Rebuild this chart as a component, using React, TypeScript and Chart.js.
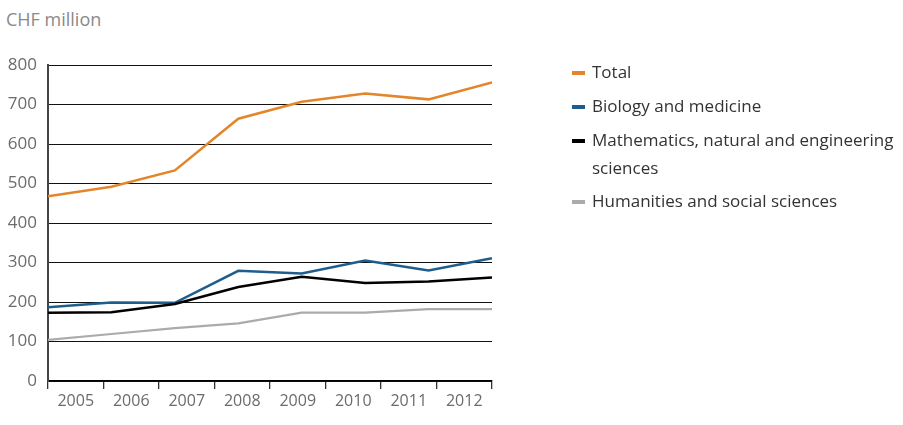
import React, { useEffect, useRef } from "react";
import { Chart, registerables } from "chart.js";

Chart.register(...registerables);

const years = ["2005", "2006", "2007", "2008", "2009", "2010", "2011", "2012"];
const total = [468, 492, 533, 664, 707, 728, 713, 756];
const biology = [187, 199, 198, 279, 272, 305, 280, 311];
const mathematics = [173, 174, 195, 238, 264, 248, 252, 262];
const humanities = [104, 119, 134, 146, 173, 173, 182, 182];
const yTicks = [0, 100, 200, 300, 400, 500, 600, 700, 800];

const seriesNames = [
  "Total",
  "Biology and medicine",
  "Mathematics, natural and engineering sciences",
  "Humanities and social sciences",
];
const seriesColors = ["#E3862A", "#1F5E8C", "#000000", "#ABABAB"];
const seriesValues = [total, biology, mathematics, humanities];

const FONT = "'Open Sans', sans-serif";

export default function App() {
  const ref = useRef<HTMLCanvasElement | null>(null);

  useEffect(() => {
    document.body.style.margin = "0";
    const ctx = ref.current!;
    const chart = new Chart(ctx, {
      type: "line",
      data: {
        labels: years,
        datasets: seriesValues.map((vals, i) => ({
          label: seriesNames[i],
          data: vals.map((v, k) => ({ x: k, y: v })),
          borderColor: seriesColors[i],
          backgroundColor: seriesColors[i],
          borderWidth: i === 3 ? 2.2 : 2.5,
          pointRadius: 0,
          tension: 0,
          xAxisID: "xd",
          order: 3 - i,
        })),
      },
      options: {
        animation: false,
        responsive: false,
        maintainAspectRatio: false,
        layout: { padding: { top: 65, right: 48, left: 0, bottom: 0 } },
        plugins: { legend: { display: false }, tooltip: { enabled: false }, title: { display: false } },
        scales: {
          x: {
            type: "category",
            offset: true,
            grid: { display: true, drawOnChartArea: false, drawTicks: true, tickLength: 8, color: "#333", lineWidth: 1.3, offset: true },
            border: { display: true, color: "#000", width: 1.3 },
            ticks: { color: "#6b6b6b", font: { family: FONT, size: 16 }, padding: 3, maxRotation: 0 },
            afterFit: (s: any) => { s.height = 44; },
          },
          xd: {
            type: "linear",
            min: 0,
            max: 7,
            display: false,
          },
          y: {
            min: 0,
            max: 800,
            afterBuildTicks: (s: any) => { s.ticks = yTicks.map((v) => ({ value: v })); },
            grid: { color: "#111", lineWidth: 1, drawTicks: false },
            border: { display: true, color: "#444", width: 2 },
            ticks: { color: "#6b6b6b", font: { family: FONT, size: 17 }, padding: 11 },
            afterFit: (s: any) => { s.width = 48; },
          },
        },
      },
    });
    return () => chart.destroy();
  }, []);

  const legendTops = [72, 106, 140, 201];

  return (
    <div style={{ position: "fixed", left: 0, top: 0, width: 903, height: 425, background: "#fff", fontFamily: FONT }}>
      <div style={{ position: "absolute", left: 6, top: 6, fontSize: 18, color: "#8a8a8a", lineHeight: "26px" }}>CHF million</div>
      <canvas ref={ref} width={540} height={425} style={{ position: "absolute", left: 0, top: 0, width: 540, height: 425 }} />
      {seriesNames.map((name, i) => (
        <div key={name} style={{ position: "absolute", left: 572, top: legendTops[i] - 14, width: 330 }}>
          <span style={{ position: "absolute", left: 0, top: 13, width: 13, height: 4, background: seriesColors[i] }} />
          <div style={{ position: "absolute", left: 20, top: 0, width: 312, fontSize: 17, lineHeight: "28px", color: "#333" }}>
            {name}
          </div>
        </div>
      ))}
    </div>
  );
}
